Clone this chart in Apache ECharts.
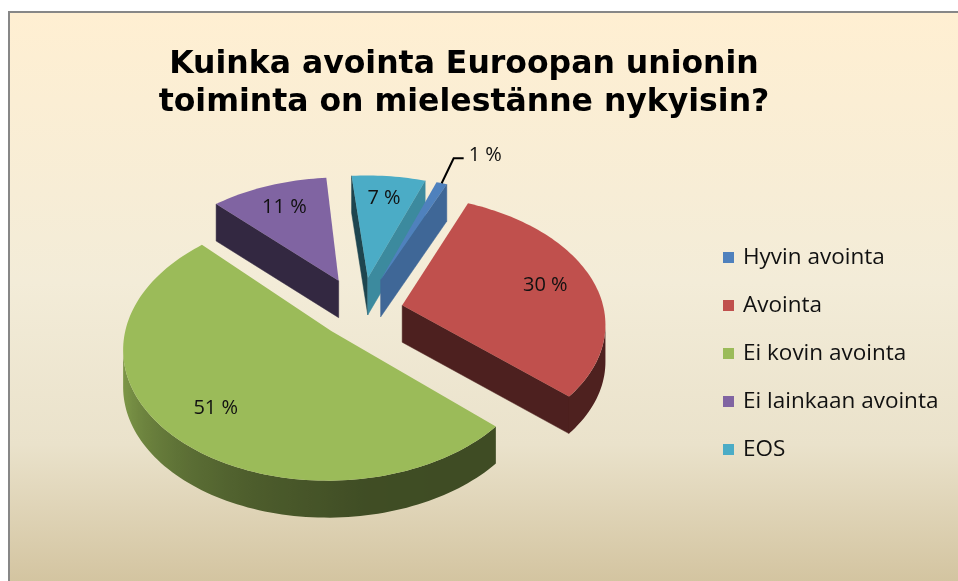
<!DOCTYPE html>
<html>
<head>
<meta charset="utf-8">
<script src="https://cdn.jsdelivr.net/npm/echarts@6/dist/echarts.min.js"></script>
<style>
html,body{margin:0;padding:0;background:#ffffff;}
#chart{width:958px;height:581px;}
</style>
</head>
<body>
<div id="chart"></div>
<script>
// ---- data ----
const categories = ['Hyvin avointa', 'Avointa', 'Ei kovin avointa', 'Ei lainkaan avointa', 'EOS'];
const values = [1, 30, 51, 11, 7];
const percentLabels = ['1 %', '30 %', '51 %', '11 %', '7 %'];
const titleLines = ['Kuinka avointa Euroopan unionin', 'toiminta on mielestänne nykyisin?'];

// ---- style ----
const colors = ['#4F81BD', '#C0504D', '#9BBB59', '#8064A2', '#4BACC6'];
const explode = [0.27, 0.21, 0.21, 0.27, 0.27];
const GEO = { cx: 361, cy: 311, a: 202, b: 128, p: 0.13, h: 37, start: 20, labelR: 0.75 };
const LABEL_FONT = '"Open Sans", Lato, sans-serif';

const rad = d => d * Math.PI / 180;
const norm = d => ((d % 360) + 360) % 360;

function shade(hex, k) {
  const n = parseInt(hex.slice(1), 16);
  const r = Math.round(((n >> 16) & 255) * k);
  const g = Math.round(((n >> 8) & 255) * k);
  const b = Math.round((n & 255) * k);
  return 'rgb(' + r + ',' + g + ',' + b + ')';
}
function interp(table, x) {
  for (let i = 0; i < table.length - 1; i++) {
    const [x0, y0] = table[i], [x1, y1] = table[i + 1];
    if (x >= x0 && x <= x1) return y0 + (y1 - y0) * (x - x0) / (x1 - x0);
  }
  return table[table.length - 1][1];
}
const outerTable = [[0, 0.4], [170, 0.41], [200, 0.5], [220, 0.6], [250, 0.78], [270, 0.82], [300, 0.8], [360, 0.4]];
function outerShade(phi) { return interp(outerTable, norm(phi)); }
function radialShade(theta) { const t = norm(theta); return (t >= 170 && t < 330) ? 0.4 : 0.8; }

function proj(u, v, dz) {
  const f = 1 + GEO.p * v;
  return [GEO.cx + GEO.a * u * f, GEO.cy + GEO.b * v * f + dz];
}
function area(pts) {
  let s = 0;
  for (let i = 0; i < pts.length; i++) {
    const p = pts[i], q = pts[(i + 1) % pts.length];
    s += p[0] * q[1] - q[0] * p[1];
  }
  return s;
}

const total = values.reduce((s, v) => s + v, 0);

function renderSlice(i) {
  let cum = 0;
  for (let k = 0; k < i; k++) cum += values[k];
  const a0 = GEO.start + 360 * cum / total;
  const a1 = a0 + 360 * values[i] / total;
  const mid = (a0 + a1) / 2;
  const e = explode[i];
  const ex = e * Math.sin(rad(mid)), ey = -e * Math.cos(rad(mid));
  const steps = Math.max(2, Math.ceil((a1 - a0) / 1.5));
  const arc = [];
  for (let k = 0; k <= steps; k++) {
    const phi = a0 + (a1 - a0) * k / steps;
    arc.push({ phi: phi, u: ex + Math.sin(rad(phi)), v: ey - Math.cos(rad(phi)) });
  }
  const H = GEO.h;
  const children = [];
  const col = colors[i];

  function isFront(p, q) {
    const pts = [proj(p.u, p.v, 0), proj(q.u, q.v, 0), proj(q.u, q.v, H), proj(p.u, p.v, H)];
    return area(pts) < 0 ? pts : null;
  }
  function radialWall(p, q, sh) {
    const pts = isFront(p, q);
    if (!pts) return;
    const c = shade(col, sh);
    children.push({
      type: 'polygon', z2: 100 + (p.v + q.v) * 25,
      shape: { points: pts },
      style: { fill: c, stroke: c, lineWidth: 0.5 }
    });
  }
  const tip = { u: ex, v: ey };
  radialWall(tip, arc[0], radialShade(a0 - 90));
  radialWall(arc[steps], tip, radialShade(a1 + 90));

  // outer wall: contiguous runs of front-facing segments, one polygon each with a horizontal gradient
  let run = [];
  const runs = [];
  for (let k = 0; k < steps; k++) {
    if (isFront(arc[k], arc[k + 1])) {
      if (!run.length) run.push(arc[k]);
      run.push(arc[k + 1]);
    } else if (run.length) { runs.push(run); run = []; }
  }
  if (run.length) runs.push(run);
  runs.forEach(r => {
    const top = r.map(p => proj(p.u, p.v, 0));
    const bot = r.map(p => proj(p.u, p.v, H)).reverse();
    const xs = top.map(p => p[0]);
    const minX = Math.min.apply(null, xs), maxX = Math.max.apply(null, xs);
    const span = Math.max(1, maxX - minX);
    const stops = r.map((p, k) => ({ offset: (top[k][0] - minX) / span, color: shade(col, outerShade(p.phi)) }))
      .sort((s, t) => s.offset - t.offset);
    const avgV = r.reduce((s, p) => s + p.v, 0) / r.length;
    children.push({
      type: 'polygon', z2: 100 + avgV * 50,
      shape: { points: top.concat(bot) },
      style: { fill: new echarts.graphic.LinearGradient(minX, 0, minX + span, 0, stops, true) }
    });
  });

  // top face
  const topPts = [proj(ex, ey, 0)].concat(arc.map(p => proj(p.u, p.v, 0)));
  children.push({
    type: 'polygon', z2: 500,
    shape: { points: topPts },
    style: { fill: col }
  });

  // label
  if (values[i] / total >= 0.03) {
    const lp = proj(ex + GEO.labelR * Math.sin(rad(mid)), ey - GEO.labelR * Math.cos(rad(mid)), 0);
    children.push({
      type: 'text', z2: 600, x: lp[0], y: lp[1],
      style: { text: percentLabels[i], fill: '#111', fontSize: 20, fontFamily: LABEL_FONT, align: 'center', verticalAlign: 'middle' }
    });
  } else {
    const rp = proj(ex + Math.sin(rad(mid)), ey - Math.cos(rad(mid)), 0);
    const elbow = [rp[0] + 12, rp[1] - 25];
    const end = [elbow[0] + 10, elbow[1]];
    children.push({
      type: 'polyline', z2: 600,
      shape: { points: [rp, elbow, end] },
      style: { stroke: '#000', lineWidth: 2, fill: null }
    });
    children.push({
      type: 'text', z2: 600, x: end[0] + 5, y: end[1] - 3,
      style: { text: percentLabels[i], fill: '#111', fontSize: 20, fontFamily: LABEL_FONT, align: 'left', verticalAlign: 'middle' }
    });
  }
  return { type: 'group', children: children };
}

const series = categories.map((name, i) => ({
  type: 'custom',
  name: name,
  coordinateSystem: 'none',
  itemStyle: { color: colors[i] },
  data: [[values[i]]],
  renderItem: function () { return renderSlice(i); },
  animation: false
}));

const chart = echarts.init(document.getElementById('chart'), null, { renderer: 'canvas' });
chart.setOption({
  animation: false,
  backgroundColor: '#ffffff',
  graphic: [{
    type: 'rect', z: -10, silent: true,
    shape: { x: 9, y: 12, width: 980, height: 600 },
    style: {
      fill: new echarts.graphic.LinearGradient(0, 0, 0, 1, [
        { offset: 0, color: '#FFEFD2' },
        { offset: 0.45, color: '#F3ECD8' },
        { offset: 0.72, color: '#EAE2CB' },
        { offset: 0.95, color: '#D3C4A0' },
        { offset: 1, color: '#D1C29D' }
      ]),
      stroke: '#878787', lineWidth: 2
    }
  }],
  title: {
    text: titleLines.join('\n'),
    left: 459, top: 41, textAlign: 'center',
    textStyle: { fontFamily: '"DejaVu Sans", sans-serif', fontWeight: 'bold', fontSize: 31.5, lineHeight: 38, color: '#000' }
  },
  legend: {
    orient: 'vertical',
    left: 718, top: 241,
    itemWidth: 11, itemHeight: 11, itemGap: 25,
    icon: 'rect',
    data: categories,
    textStyle: { fontFamily: LABEL_FONT, fontSize: 22.5, lineHeight: 22, color: '#111', padding: [0, 0, 0, 4] }
  },
  series: series
});
</script>
</body>
</html>
